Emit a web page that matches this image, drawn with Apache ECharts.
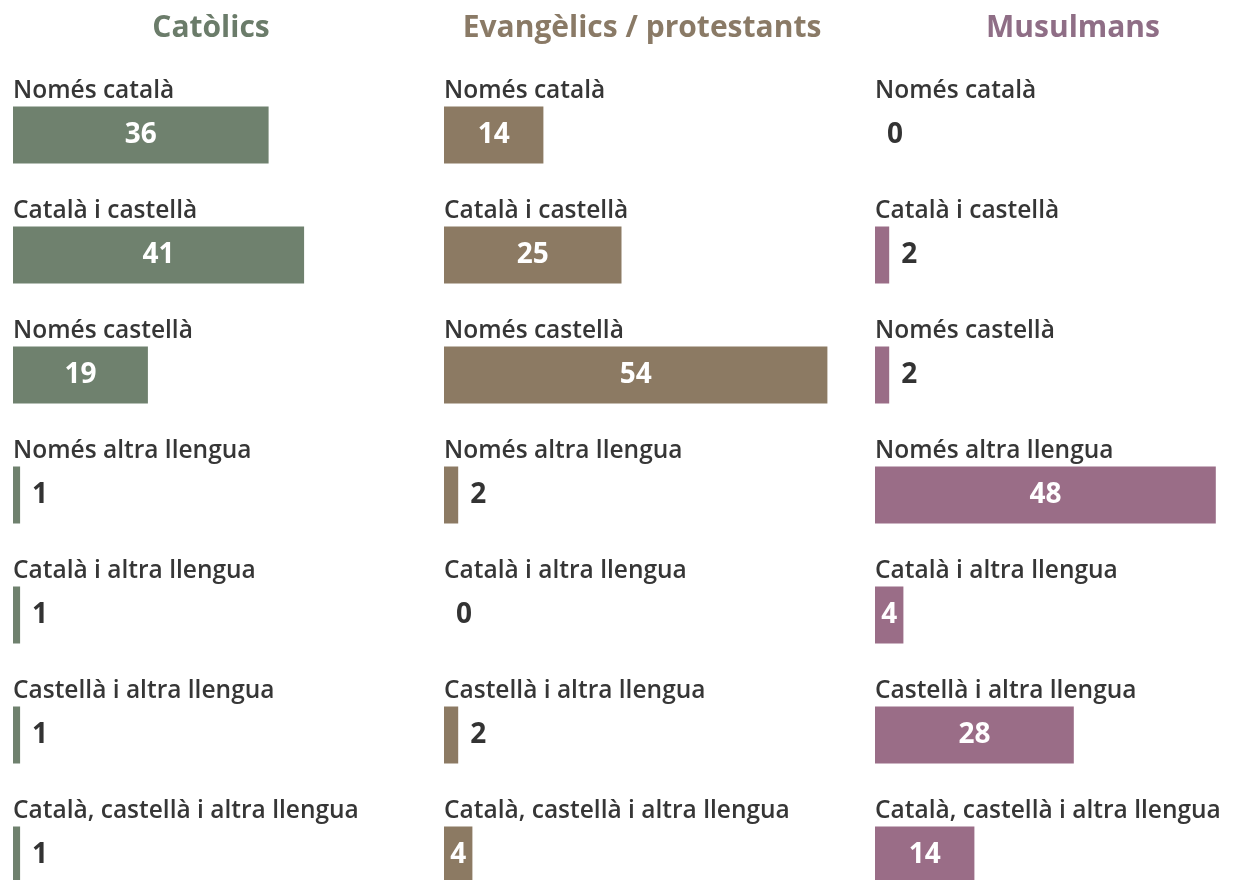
<!DOCTYPE html>
<html>
<head>
<meta charset="utf-8">
<script src="https://cdn.jsdelivr.net/npm/echarts@6/dist/echarts.min.js"></script>
<style>
html,body{margin:0;padding:0;background:#fff;}
#chart{width:1235px;height:880px;}
</style>
</head>
<body>
<div id="chart"></div>
<script>
const categories = [
  "Només català",
  "Català i castellà",
  "Només castellà",
  "Només altra llengua",
  "Català i altra llengua",
  "Castellà i altra llengua",
  "Català, castellà i altra llengua"
];
const groups = ["Catòlics", "Evangèlics / protestants", "Musulmans"];
const catolics = [36, 41, 19, 1, 1, 1, 1];
const evangelics = [14, 25, 54, 2, 0, 2, 4];
const musulmans = [0, 2, 2, 48, 4, 28, 14];

const values = [catolics, evangelics, musulmans];
const barColors = ["#6f816e", "#8c7a63", "#9a6d87"];
const titleColors = ["#6b7c6a", "#8a7a66", "#8f6e86"];
const FONT = "Open Sans";
const lefts = [13, 444, 875];

const chart = echarts.init(document.getElementById('chart'));
const option = {
  animation: false,
  title: groups.map((g, i) => ({
    text: g,
    left: lefts[i] + 193,
    top: 8,
    textAlign: 'center',
    textStyle: {fontFamily: FONT, fontWeight: 'bold', fontSize: 30, color: titleColors[i]}
  })),
  grid: lefts.map(l => ({left: l, top: 75, width: 426, height: 840, containLabel: false, outerBoundsMode: 'none'})),
  xAxis: lefts.map((l, i) => ({type: 'value', gridIndex: i, min: 0, max: 60, show: false})),
  yAxis: lefts.map((l, i) => ({
    type: 'category', gridIndex: i, data: categories, inverse: true,
    axisLine: {show: false}, axisTick: {show: false}, splitLine: {show: false},
    axisLabel: {
      inside: true, margin: 0, align: 'left', verticalAlign: 'bottom',
      padding: [0, 0, 31, 0],
      fontFamily: FONT, fontWeight: 600, fontSize: 24.5, color: '#363636'
    }
  })),
  series: values.map((arr, i) => ({
    type: 'bar', xAxisIndex: i, yAxisIndex: i, barWidth: 57,
    itemStyle: {color: barColors[i]},
    data: arr.map(v => ({
      value: v,
      label: v > 2
        ? {show: true, position: 'inside', color: '#fff', fontFamily: FONT, fontWeight: 'bold', fontSize: 28}
        : {show: true, position: 'right', distance: 12, color: '#333', fontFamily: FONT, fontWeight: 'bold', fontSize: 28}
    }))
  }))
};
chart.setOption(option);
</script>
</body>
</html>
